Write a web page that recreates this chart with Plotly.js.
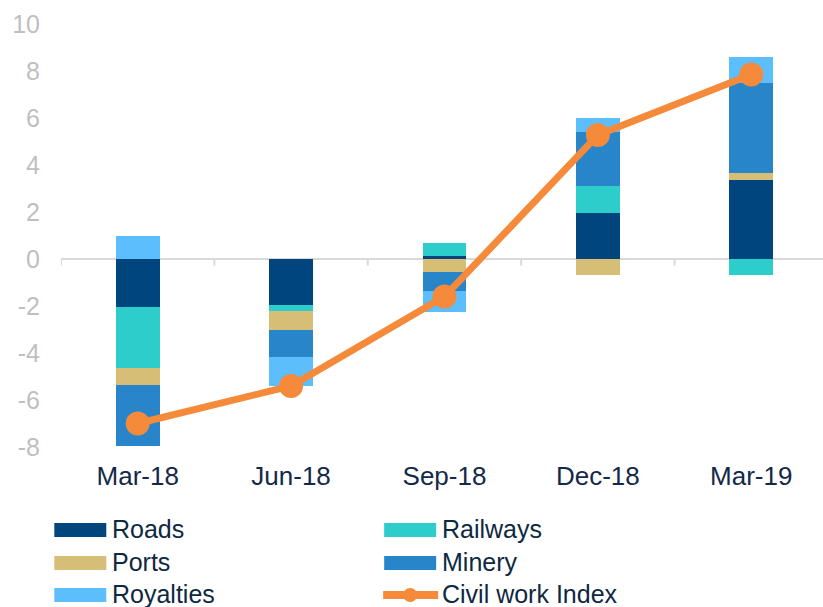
<!DOCTYPE html>
<html>
<head>
<meta charset="utf-8">
<script src="https://cdn.plot.ly/plotly-3.0.1.min.js"></script>
<style>html,body{margin:0;padding:0;background:#fff;}#chart{width:823px;height:607px;}</style>
</head>
<body>
<div id="chart"></div>
<script>
const categories = ['Mar-18', 'Jun-18', 'Sep-18', 'Dec-18', 'Mar-19'];
const roads     = [-2.05, -1.95, 0.12, 1.95, 3.37];
const railways  = [-2.60, -0.25, 0.58, 1.15, -0.70];
const ports     = [-0.70, -0.80, -0.55, -0.70, 0.28];
const minery    = [-2.60, -1.15, -0.80, 2.30, 3.85];
const royalties = [0.97, -1.25, -0.90, 0.62, 1.10];
const civilIndex = [-7.00, -5.40, -1.60, 5.28, 7.85];
const yTicks = [-8, -6, -4, -2, 0, 2, 4, 6, 8, 10];
const yTickText = ['-8', '-6', '-4', '-2', '0', '2', '4', '6', '8', '10'];

const seriesNames = ['Roads', 'Railways', 'Ports', 'Minery', 'Royalties'];
const seriesValues = [roads, railways, ports, minery, royalties];
const seriesColors = ['#01457F', '#2DCDCB', '#D7BE77', '#2985CA', '#5CBEFC'];
const indexName = 'Civil work Index';
const indexColor = '#F58A3B';

const W = 823, H = 607;
const L = 60.7, T = 24, PW = W - L, PH = 447 - T;
const xr = [-0.5, -0.5 + PW / 153.45];
const px = v => (v - L) / PW;
const py = v => (T + PH - v) / PH;

const traces = seriesNames.map((n, i) => ({
  type: 'bar', name: n, x: categories.map((c, k) => k), y: seriesValues[i],
  width: 0.285, marker: {color: seriesColors[i], line: {width: 0}},
  hoverinfo: 'skip'
}));
traces.push({
  type: 'scatter', mode: 'lines+markers', name: indexName,
  x: categories.map((c, k) => k), y: civilIndex,
  line: {color: indexColor, width: 7},
  marker: {color: indexColor, size: 24},
  cliponaxis: false
});

const shapes = [];
const annotations = [];
// category divider ticks on zero line
for (let k = 0; k <= categories.length; k++) {
  shapes.push({type: 'line', xref: 'x', yref: 'y', x0: k - 0.5, x1: k - 0.5, y0: 0, y1: -0.28,
    line: {color: '#d9d9d9', width: 2}, layer: 'below'});
}
// custom legend
const entries = seriesNames.map((n, i) => ({name: n, color: seriesColors[i], kind: 'bar'}));
entries.push({name: indexName, color: indexColor, kind: 'line'});
const colX = [54, 384];
const rowY = [529, 562, 594];
entries.forEach((e, i) => {
  const cx = colX[i % 2], cy = rowY[Math.floor(i / 2)];
  if (e.kind === 'bar') {
    shapes.push({type: 'rect', xref: 'paper', yref: 'paper',
      x0: px(cx), x1: px(cx + 52), y0: py(cy - 6), y1: py(cy + 8),
      fillcolor: e.color, line: {width: 0}});
  } else {
    shapes.push({type: 'line', xref: 'paper', yref: 'paper',
      x0: px(cx - 1), x1: px(cx + 54), y0: py(cy + 1), y1: py(cy + 1),
      line: {color: e.color, width: 8}});
    shapes.push({type: 'circle', xref: 'paper', yref: 'paper',
      x0: px(cx + 19), x1: px(cx + 33), y0: py(cy - 6), y1: py(cy + 8),
      fillcolor: e.color, line: {width: 0}});
  }
  annotations.push({xref: 'paper', yref: 'paper', x: px(cx + 56), y: py(cy),
    xanchor: 'left', yanchor: 'middle', showarrow: false, text: e.name,
    font: {family: 'Liberation Sans, Arial, sans-serif', size: 25, color: '#0E2841'}});
});

const layout = {
  width: W, height: H,
  margin: {l: L, r: 0, t: T, b: H - 447},
  paper_bgcolor: '#ffffff', plot_bgcolor: '#ffffff',
  barmode: 'relative', bargap: 0,
  showlegend: false,
  xaxis: {
    range: xr, tickmode: 'array', tickvals: categories.map((c, k) => k), ticktext: categories,
    showgrid: false, zeroline: false, showline: false, ticks: '',
    ticklabelstandoff: 11,
    tickfont: {family: 'Liberation Sans, Arial, sans-serif', size: 26, color: '#14284B'}
  },
  yaxis: {
    range: [-8, 10], tickmode: 'array', tickvals: yTicks, ticktext: yTickText,
    showgrid: false, zeroline: true, zerolinecolor: '#d9d9d9', zerolinewidth: 2,
    showline: false, ticks: '', ticklabelstandoff: 20,
    tickfont: {family: 'Liberation Sans, Arial, sans-serif', size: 25, color: '#BFBFBF'}
  },
  shapes: shapes,
  annotations: annotations
};

Plotly.newPlot('chart', traces, layout, {staticPlot: true, displayModeBar: false});
</script>
</body>
</html>
